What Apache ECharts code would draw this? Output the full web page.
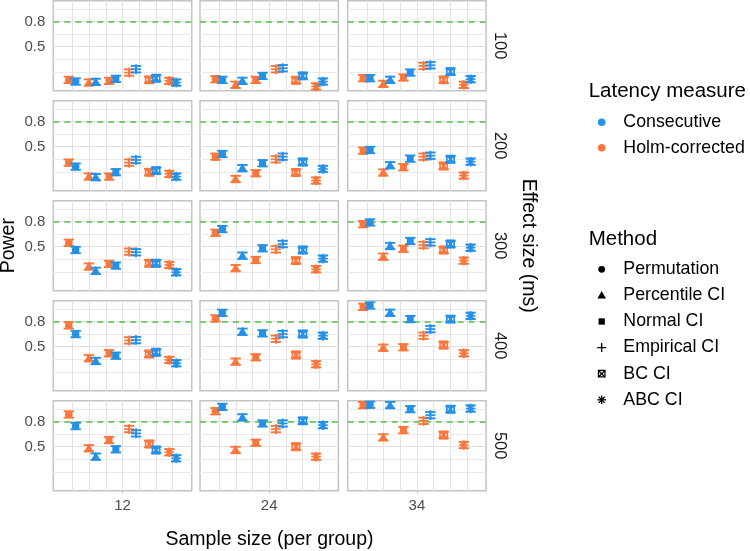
<!DOCTYPE html>
<html><head><meta charset="utf-8">
<script src="https://cdn.jsdelivr.net/npm/echarts@6/dist/echarts.min.js"></script>
<style>html,body{margin:0;padding:0;background:#fff}#c{width:750px;height:551px}</style>
</head><body><div id="c"></div>
<script>
// ---------- data ----------
const methods = ['Permutation', 'Percentile CI', 'Normal CI', 'Empirical CI', 'BC CI', 'ABC CI'];
const measures = ['Consecutive', 'Holm-corrected'];
const sampleSizes = [12, 24, 34];
const effectSizes = [100, 200, 300, 400, 500];
const yTickValues = [0.5, 0.8];
const yMinorValues = [0.2, 0.35, 0.65, 0.95];
const powerTarget = 0.8;
const ciHalfWidth = 0.038;

// power by sample size (rows: 12, 24, 34), values in method order
const consecutive100 = [
  [0.085, 0.081, 0.117, 0.232, 0.125, 0.073],
  [0.105, 0.093, 0.152, 0.244, 0.152, 0.085],
  [0.125, 0.105, 0.192, 0.279, 0.203, 0.113]];
const holm100 = [
  [0.105, 0.073, 0.093, 0.192, 0.105, 0.093],
  [0.113, 0.046, 0.105, 0.232, 0.101, 0.026],
  [0.125, 0.057, 0.133, 0.271, 0.105, 0.046]];
const consecutive200 = [
  [0.263, 0.137, 0.196, 0.342, 0.215, 0.144],
  [0.413, 0.244, 0.303, 0.381, 0.318, 0.235],
  [0.461, 0.279, 0.358, 0.393, 0.350, 0.322]];
const holm200 = [
  [0.310, 0.144, 0.144, 0.310, 0.196, 0.176],
  [0.381, 0.115, 0.184, 0.350, 0.192, 0.097],
  [0.453, 0.192, 0.256, 0.381, 0.271, 0.156]];
const consecutive300 = [
  [0.461, 0.212, 0.275, 0.434, 0.303, 0.196],
  [0.710, 0.393, 0.481, 0.532, 0.461, 0.358],
  [0.789, 0.508, 0.568, 0.552, 0.532, 0.488]];
const holm300 = [
  [0.547, 0.263, 0.295, 0.441, 0.303, 0.283],
  [0.666, 0.244, 0.342, 0.469, 0.334, 0.232],
  [0.769, 0.381, 0.476, 0.520, 0.461, 0.334]];
const consecutive400 = [
  [0.651, 0.330, 0.393, 0.579, 0.434, 0.303],
  [0.903, 0.678, 0.659, 0.651, 0.651, 0.631],
  [0.991, 0.903, 0.829, 0.710, 0.829, 0.868]];
const holm400 = [
  [0.754, 0.362, 0.422, 0.575, 0.413, 0.342],
  [0.837, 0.322, 0.374, 0.595, 0.402, 0.291],
  [0.974, 0.488, 0.493, 0.631, 0.520, 0.422]];
const consecutive500 = [
  [0.746, 0.381, 0.469, 0.659, 0.461, 0.362],
  [0.974, 0.849, 0.777, 0.777, 0.808, 0.757],
  [1.000, 0.995, 0.947, 0.876, 0.947, 0.955]];
const holm500 = [
  [0.884, 0.481, 0.579, 0.710, 0.532, 0.434],
  [0.923, 0.461, 0.547, 0.710, 0.500, 0.381],
  [0.995, 0.611, 0.698, 0.808, 0.639, 0.520]];

const consecutiveByEffect = [consecutive100, consecutive200, consecutive300, consecutive400, consecutive500];
const holmByEffect = [holm100, holm200, holm300, holm400, holm500];

// ---------- style / layout ----------
const COLORS = { 'Consecutive': '#2490e6', 'Holm-corrected': '#f8773c' };
const FONT = '"Liberation Sans", Arial, sans-serif';
const panelLeft = [53.3, 200, 347.7];
const panelW = 138.4;
const panelTop0 = 0.7, rowPitch = 100, panelH = 90;
const X_MIN = -3.44, X_MAX = 3.44;
const Y_MIN = -0.024, Y_MAX = 1.048;
const vGrid = [-2.49, -1.66, -0.83, 0, 0.83, 1.66, 2.49];
const dodge = 0.17;

function shapeEls(m, cx, cy, color, scale, lw) {
  const s = scale || 1;
  const st = { stroke: color, lineWidth: lw || 1.6, fill: null };
  const ln = (x1, y1, x2, y2) => ({ type: 'line', shape: { x1, y1, x2, y2 }, style: st });
  switch (m) {
    case 0: return [{ type: 'circle', shape: { cx, cy, r: 3.8 * s }, style: { fill: color } }];
    case 1: return [{ type: 'polygon', shape: { points: [[cx, cy - 5 * s], [cx - 4.8 * s, cy + 3.5 * s], [cx + 4.8 * s, cy + 3.5 * s]] }, style: { fill: color } }];
    case 2: return [{ type: 'rect', shape: { x: cx - 3.5 * s, y: cy - 3.5 * s, width: 7 * s, height: 7 * s }, style: { fill: color } }];
    case 3: { const a = 5 * s; return [ln(cx - a, cy, cx + a, cy), ln(cx, cy - a, cx, cy + a)]; }
    case 4: { const a = 3.6 * s; return [
      { type: 'rect', shape: { x: cx - a, y: cy - a, width: 2 * a, height: 2 * a }, style: st },
      ln(cx - a, cy - a, cx + a, cy + a), ln(cx - a, cy + a, cx + a, cy - a)]; }
    case 5: { const a = 4.8 * s, b = 3.4 * s; return [
      ln(cx - a, cy, cx + a, cy), ln(cx, cy - a, cx, cy + a),
      ln(cx - b, cy - b, cx + b, cy + b), ln(cx - b, cy + b, cx + b, cy - b)]; }
  }
  return [];
}

function renderPoint(params, api) {
  const x = api.value(0), v = api.value(1), m = api.value(2);
  const color = api.visual('color');
  const p = api.coord([x, v]);
  const top = api.coord([x, v + ciHalfWidth]);
  const bot = api.coord([x, v - ciHalfWidth]);
  const cw = 5.2;
  const st = { stroke: color, lineWidth: 1.9, fill: null };
  const children = [
    { type: 'line', shape: { x1: p[0], y1: top[1], x2: p[0], y2: bot[1] }, style: st },
    { type: 'line', shape: { x1: p[0] - cw, y1: top[1], x2: p[0] + cw, y2: top[1] }, style: st },
    { type: 'line', shape: { x1: p[0] - cw, y1: bot[1], x2: p[0] + cw, y2: bot[1] }, style: st }
  ].concat(shapeEls(m, p[0], p[1], color, 1, 1.7));
  return { type: 'group', children };
}

const grids = [], xAxes = [], yAxes = [], series = [];
effectSizes.forEach((eff, r) => {
  sampleSizes.forEach((n, c) => {
    const i = grids.length;
    grids.push({
      left: panelLeft[c], top: panelTop0 + r * rowPitch, width: panelW, height: panelH,
      show: true, borderColor: '#c4c4c4', borderWidth: 1.5, backgroundColor: '#fff', containLabel: false
    });
    const bottom = r === effectSizes.length - 1;
    xAxes.push({
      gridIndex: i, type: 'value', min: X_MIN, max: X_MAX,
      axisLine: { show: false }, splitLine: { show: false },
      axisTick: { show: bottom, customValues: [0], length: 4, lineStyle: { color: '#b3b3b3' } },
      axisLabel: { show: bottom, customValues: [0], margin: 8, formatter: () => String(n),
        color: '#4d4d4d', fontSize: 15, fontFamily: FONT }
    });
    yAxes.push({
      gridIndex: i, type: 'value', min: Y_MIN, max: Y_MAX,
      axisLine: { show: false }, splitLine: { show: false },
      axisTick: { show: c === 0, customValues: yTickValues, length: 4, lineStyle: { color: '#b3b3b3' } },
      axisLabel: { show: c === 0, customValues: yTickValues, margin: 8,
        color: '#4d4d4d', fontSize: 15, fontFamily: FONT }
    });
    // grid lines + target line
    const ml = [];
    yMinorValues.forEach(v => ml.push({ yAxis: v, lineStyle: { color: '#ebebeb', width: 1, type: 'solid' } }));
    yTickValues.forEach(v => ml.push({ yAxis: v, lineStyle: { color: '#e0e0e0', width: 1, type: 'solid' } }));
    vGrid.forEach(v => ml.push({ xAxis: v, lineStyle: { color: '#e3e3e3', width: 1, type: 'solid' } }));
    ml.push({ yAxis: powerTarget, lineStyle: { color: '#55c24a', width: 1.6, type: [6, 5] } });
    series.push({
      type: 'line', xAxisIndex: i, yAxisIndex: i, data: [], silent: true,
      markLine: { silent: true, symbol: 'none', z: 1, animation: false, label: { show: false }, data: ml }
    });
    [['Holm-corrected', holmByEffect], ['Consecutive', consecutiveByEffect]].forEach(([meas, src]) => {
      const vals = src[r][c];
      const off = meas === 'Holm-corrected' ? -dodge : dodge;
      series.push({
        type: 'custom', name: meas, xAxisIndex: i, yAxisIndex: i, z: 3,
        itemStyle: { color: COLORS[meas] },
        renderItem: renderPoint,
        data: vals.map((v, m) => [m - 2.5 + off, v, m])
      });
    });
  });
});

// ---------- texts & legend ----------
const graphics = [];
const panelMidY = panelTop0 + (rowPitch * 4 + panelH) / 2;
graphics.push({ type: 'text', x: 9, y: panelMidY, rotation: Math.PI / 2,
  style: { text: 'Power', fill: '#000', font: '19.5px ' + FONT, align: 'center', verticalAlign: 'middle' } });
graphics.push({ type: 'text', x: 269.5, y: 540,
  style: { text: 'Sample size (per group)', fill: '#000', font: '19.5px ' + FONT, align: 'center', verticalAlign: 'middle' } });
graphics.push({ type: 'text', x: 528.5, y: panelMidY, rotation: -Math.PI / 2,
  style: { text: 'Effect size (ms)', fill: '#000', font: '19.5px ' + FONT, align: 'center', verticalAlign: 'middle' } });
effectSizes.forEach((eff, r) => {
  graphics.push({ type: 'text', x: 500, y: panelTop0 + r * rowPitch + panelH / 2, rotation: -Math.PI / 2,
    style: { text: String(eff), fill: '#1a1a1a', font: '16.5px ' + FONT, align: 'center', verticalAlign: 'middle' } });
});
const legX = 588.7, symX = 601.7, labX = 623.3;
graphics.push({ type: 'text', x: legX, y: 91.7,
  style: { text: 'Latency measure', fill: '#000', font: '20.5px ' + FONT, align: 'left', verticalAlign: 'middle' } });
measures.forEach((meas, k) => {
  const y = 122.3 + k * 25.4;
  graphics.push({ type: 'circle', shape: { cx: symX, cy: y, r: 3.8 }, style: { fill: COLORS[meas] } });
  graphics.push({ type: 'text', x: labX, y,
    style: { text: meas, fill: '#000', font: '17.8px ' + FONT, align: 'left', verticalAlign: 'middle' } });
});
graphics.push({ type: 'text', x: legX, y: 239,
  style: { text: 'Method', fill: '#000', font: '20.5px ' + FONT, align: 'left', verticalAlign: 'middle' } });
methods.forEach((mname, m) => {
  const y = 269.3 + m * 26.1;
  shapeEls(m, symX, y, '#000', 0.9, 1.3).forEach(el => graphics.push(el));
  graphics.push({ type: 'text', x: labX, y,
    style: { text: mname, fill: '#000', font: '17.8px ' + FONT, align: 'left', verticalAlign: 'middle' } });
});

const chart = echarts.init(document.getElementById('c'), null, { renderer: 'canvas' });
chart.setOption({
  backgroundColor: '#fff',
  animation: false,
  grid: grids, xAxis: xAxes, yAxis: yAxes, series,
  graphic: { elements: graphics }
});
</script></body></html>
